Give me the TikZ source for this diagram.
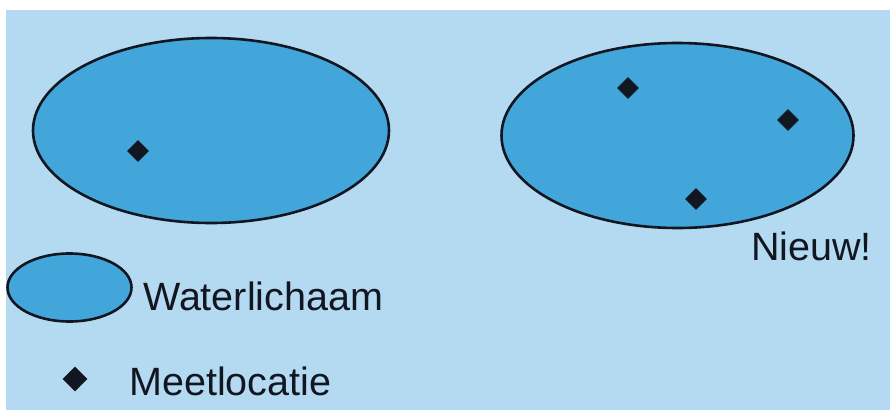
\documentclass[tikz,border=0pt]{standalone}
\usepackage{fontspec}
\setmainfont{Liberation Sans}
\usetikzlibrary{shapes.geometric}

\definecolor{bgblue}{HTML}{B4DAF1}
\definecolor{waterblue}{HTML}{43A6DB}
\definecolor{inkdark}{HTML}{121620}

\begin{document}
\begin{tikzpicture}[
    x=1pt, y=-1pt,
    water/.style={draw=inkdark, line width=2.6pt, fill=waterblue, ellipse, inner sep=0pt},
    meetpunt/.style={diamond, fill=inkdark, minimum size=22pt, inner sep=0pt},
    label/.style={font=\fontsize{39.5}{42}\selectfont, text=inkdark, inner sep=0pt, anchor=base west}
]

% canvas
\useasboundingbox (0,0) rectangle (890,412);
\fill[white] (0,0) rectangle (890,412);
\fill[bgblue] (6,10) rectangle (890,410);

% the two water bodies
\node[water, minimum width=356pt, minimum height=185pt] (oud) at (211,130.5) {};
\node[water, minimum width=352pt, minimum height=185pt] (nieuw) at (677.5,135.5) {};

% measuring points
\node[meetpunt] (m0) at (138,151) {};
\node[meetpunt] (m1) at (628,88) {};
\node[meetpunt] (m2) at (788,120) {};
\node[meetpunt] (m3) at (696,199) {};

\node[label] (new) at (751,260) {Nieuw!};

% legend
\node[water, minimum width=124pt, minimum height=68pt] (legwater) at (69.5,287.5) {};
\node[label] (legwatertxt) at (143,310) {Waterlichaam};
\node[meetpunt, minimum size=25pt] (legpunt) at (75,379) {};
\node[label] (legpunttxt) at (129,395) {Meetlocatie};

\end{tikzpicture}
\end{document}
